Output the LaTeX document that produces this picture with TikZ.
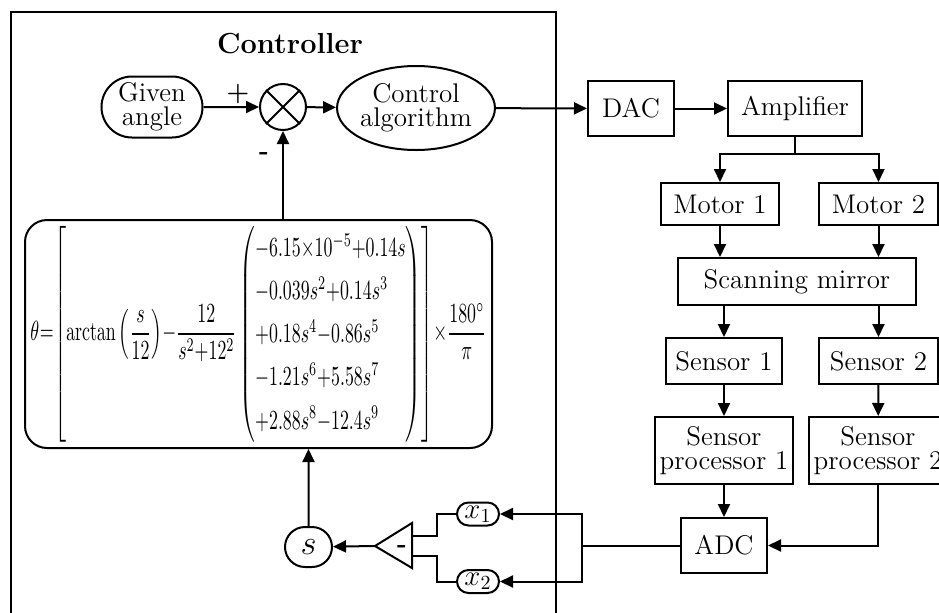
\documentclass[tikz,border=0pt]{standalone}
\usepackage{amsmath}
\usepackage{graphicx}
\usetikzlibrary{shapes.geometric,shapes.misc,arrows.meta}

\tikzset{
  blk/.style={draw, line width=1pt, inner sep=1pt, align=center,
    font=\fontsize{13.5}{12}\selectfont},
  pill/.style={blk, rounded rectangle},
  wire/.style={line width=1pt},
  sig/.style={wire, -{Triangle[length=6.5pt,width=6pt]}},
  sign/.style={font=\fontsize{13}{13}\selectfont\bfseries, inner sep=0pt},
}

\begin{document}
\begin{tikzpicture}[x=0.5pt, y=-0.5pt]
	\clip (0,0) rectangle (939,612);
	% controller frame
	\draw[wire] (11,12) rectangle (556,650);
	\node[font=\fontsize{14.5}{16}\selectfont\bfseries] (title) at (290,44) {Controller};

	\node[pill, minimum width=52.5pt, minimum height=30.5pt] (given) at (152,107) {Given\\angle};
	\node[draw, circle, line width=1pt, minimum size=23pt, inner sep=0pt] (sum) at (283,107) {};
	\draw[wire] (sum.45) -- (sum.225) (sum.135) -- (sum.315);
	\node[blk, ellipse, minimum width=75.5pt, minimum height=42pt, inner sep=0pt] (ctrl) at (416,108) {Control\\algorithm};
	\node[sign] (plus) at (238,94) {+};
	\node[sign] (minus) at (264,156) {-};

	\node[draw, line width=1pt, rounded corners=11pt, minimum width=233.5pt, minimum height=114pt, inner sep=0pt] (law) at (258.5,334)
		{\resizebox*{228pt}{108pt}{\def\arraystretch{1.3}\medmuskip=0mu\thickmuskip=0.5mu$\displaystyle \theta=\left[\arctan\left(\frac{s}{12}\right)-\frac{12}{s^2+12^2}\left(\begin{array}{@{}l@{}}
			-6.15\times10^{-5}+0.14s\\
			-0.039s^2+0.14s^3\\
			+0.18s^4-0.86s^5\\
			-1.21s^6+5.58s^7\\
			+2.88s^8-12.4s^9
		\end{array}\right)\right]\times\frac{180^\circ}{\pi}$}};

	% plant side
	\node[blk, minimum width=43pt, minimum height=27.5pt] (dac) at (631,108.5) {DAC};
	\node[blk, minimum width=67pt, minimum height=27.5pt] (amp) at (795,108.5) {Amplifier};
	\node[blk, minimum width=59pt, minimum height=21pt] (mot1) at (720,204) {Motor 1};
	\node[blk, minimum width=59.5pt, minimum height=21pt] (mot2) at (878.5,204) {Motor 2};
	\node[blk, minimum width=119pt, minimum height=23.5pt] (mirror) at (797,281.5) {Scanning mirror};
	\node[blk, minimum width=58pt, minimum height=23pt] (sen1) at (724,361) {Sensor 1};
	\node[blk, minimum width=59.5pt, minimum height=23pt] (sen2) at (878.5,361) {Sensor 2};
	\node[blk, minimum width=69pt, minimum height=33.5pt] (proc1) at (724,450.5) {Sensor\\processor 1};
	\node[blk, minimum width=69pt, minimum height=33.5pt] (proc2) at (878,450.5) {Sensor\\processor 2};
	\node[blk, minimum width=43pt, minimum height=27.5pt] (adc) at (724,545.5) {ADC};

	% feedback path
	\node[pill, font=\fontsize{14}{14}\selectfont, minimum width=22pt, minimum height=11.5pt, inner sep=0.5pt] (x1) at (478,514) {$x_1$};
	\node[pill, font=\fontsize{14}{14}\selectfont, minimum width=22pt, minimum height=11.5pt, inner sep=0.5pt] (x2) at (478,581.5) {$x_2$};
	\node[pill, font=\fontsize{16}{16}\selectfont, minimum width=23.5pt, minimum height=20pt, inner sep=0pt] (s) at (308.5,547) {$s$};
	\coordinate (triA) at (375,546);
	\coordinate (triU) at (412,536);
	\coordinate (triL) at (412,556);
	\draw[wire] (triA) -- (412,523) -- (412,568) -- cycle;
	\node[sign] (diff) at (402,549) {-};

	\draw[sig] (given) -- (sum);
	\draw[sig] (sum) -- (ctrl);
	\draw[sig] (ctrl) -- (dac);
	\draw[sig] (dac) -- (amp);
	\coordinate (split) at (795,154);
	\draw[wire] (amp.south) -- (split);
	\draw[sig] (split) -| (mot1.north);
	\draw[sig] (split) -| (mot2.north);
	\draw[sig] (mot1) -- (mot1 |- mirror.north);
	\draw[sig] (mot2) -- (mot2 |- mirror.north);
	\draw[sig] (sen1 |- mirror.south) -- (sen1);
	\draw[sig] (sen2 |- mirror.south) -- (sen2);
	\draw[sig] (sen1) -- (proc1);
	\draw[sig] (sen2) -- (proc2);
	\draw[sig] (proc1) -- (adc);
	\draw[sig] (proc2.south) |- (adc.east);
	\coordinate (fork) at (582,545.5);
	\draw[wire] (adc.west) -- (fork);
	\draw[sig] (fork) |- (x1.east);
	\draw[sig] (fork) |- (x2.east);
	\coordinate (joinU) at (437,536);
	\coordinate (joinL) at (437,556);
	\draw[wire] (x1.west) -| (joinU) -- (triU);
	\draw[wire] (x2.west) -| (joinL) -- (triL);
	\draw[sig] (triA) -- (s);
	\draw[sig] (s) -- (s |- law.south);
	\draw[sig] (sum |- law.north) -- (sum);
\end{tikzpicture}
\end{document}
